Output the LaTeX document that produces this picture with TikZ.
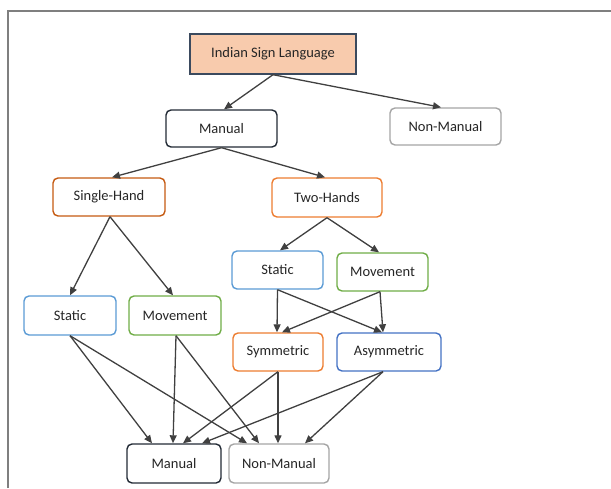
\documentclass[tikz,border=0pt]{standalone}
\usepackage{fontspec}
\setmainfont{Carlito}
\usetikzlibrary{arrows.meta}
\definecolor{peach}{HTML}{F8CBAD}
\definecolor{slate}{HTML}{3B4A5E}
\definecolor{navy}{HTML}{222A35}
\definecolor{lgray}{HTML}{A5A5A5}
\definecolor{dorange}{HTML}{C55A11}
\definecolor{orange}{HTML}{ED7D31}
\definecolor{lblue}{HTML}{5B9BD5}
\definecolor{dblue}{HTML}{4472C4}
\definecolor{green}{HTML}{70AD47}
\definecolor{arrowc}{HTML}{404040}
\definecolor{framec}{HTML}{7F7F7F}
\tikzset{
  box/.style={draw, line width=1.4pt, rounded corners=5pt, fill=white, align=center, inner sep=0pt, text=black!85, font=\fontsize{14.5}{17}\selectfont},
  arr/.style={draw=arrowc, line width=1.3pt, -{Triangle[length=8pt,width=7pt]}},
}
\begin{document}
\begin{tikzpicture}[x=1pt,y=-1pt]
\useasboundingbox (0,0) rectangle (611,488);
\draw[framec, line width=1.5pt] (8,488) -- (8,11) -- (611,11);
\node[box, rounded corners=0pt, draw=slate, fill=peach, minimum width=166pt, minimum height=40pt] (isl) at (273,54) {Indian Sign Language};
\node[box, draw=navy, minimum width=111pt, minimum height=37pt] (man1) at (221.5,128.5) {Manual};
\node[box, draw=lgray, minimum width=111pt, minimum height=37pt] (nm1) at (445.5,126.5) {Non-Manual};
\node[box, draw=dorange, minimum width=112pt, minimum height=38pt] (sh) at (109,197) {Single-Hand};
\node[box, draw=orange, minimum width=110pt, minimum height=39pt] (th) at (327,197.5) {Two-Hands};
\node[box, draw=lblue, minimum width=92pt, minimum height=39pt] (sl) at (70,315.5) {Static};
\node[box, draw=green, minimum width=92pt, minimum height=39pt] (ml) at (175,315.5) {Movement};
\node[box, draw=lblue, minimum width=91pt, minimum height=38pt] (sr) at (277.5,270) {Static};
\node[box, draw=green, minimum width=91pt, minimum height=38pt] (mr) at (382.5,272) {Movement};
\node[box, draw=orange, minimum width=90pt, minimum height=38pt] (sym) at (278,352) {Symmetric};
\node[box, draw=dblue, minimum width=104pt, minimum height=38pt] (asy) at (389,352) {Asymmetric};
\node[box, draw=navy, minimum width=94pt, minimum height=39pt] (man2) at (174,463.5) {Manual};
\node[box, draw=lgray, minimum width=100pt, minimum height=39pt] (nm2) at (279,463.5) {Non-Manual};
% level 1
\draw[arr] (isl.south) -- ([xshift=2.5pt]man1.north);
\draw[arr] (isl.south) -- ([xshift=-4.5pt]nm1.north);
% level 2
\draw[arr] (man1.south) -- ([xshift=3pt]sh.north);
\draw[arr] (man1.south) -- ([xshift=-2pt]th.north);
% level 3
\draw[arr] ([xshift=1pt]sh.south) -- (sl.north);
\draw[arr] ([xshift=1pt]sh.south) -- ([xshift=-2pt]ml.north);
\draw[arr] (th.south) -- ([xshift=2.5pt]sr.north);
\draw[arr] (th.south) -- ([xshift=-3.5pt]mr.north);
% level 4
\draw[arr] (sr.south) -- ([xshift=-1pt]sym.north);
\draw[arr] (sr.south) -- ([xshift=-7pt]asy.north);
\draw[arr] ([xshift=-2.5pt]mr.south) -- ([xshift=4pt]sym.north);
\draw[arr] ([xshift=-2.5pt]mr.south) -- ([xshift=-6pt]asy.north);
% level 5
\draw[arr] (sl.south) -- ([xshift=-22pt]man2.north);
\draw[arr] (sl.south) -- ([xshift=-32pt]nm2.north);
\draw[arr] ([xshift=1pt]ml.south) -- ([xshift=-1pt]man2.north);
\draw[arr] ([xshift=1pt]ml.south) -- ([xshift=-20pt]nm2.north);
\draw[arr] (sym.south) -- ([xshift=9pt]man2.north);
\draw[arr] (sym.south) -- ([xshift=-1pt]nm2.north);
\draw[arr] ([xshift=-6pt]asy.south) -- ([xshift=28pt]man2.north);
\draw[arr] ([xshift=-6pt]asy.south) -- ([xshift=26pt]nm2.north);
\end{tikzpicture}
\end{document}
